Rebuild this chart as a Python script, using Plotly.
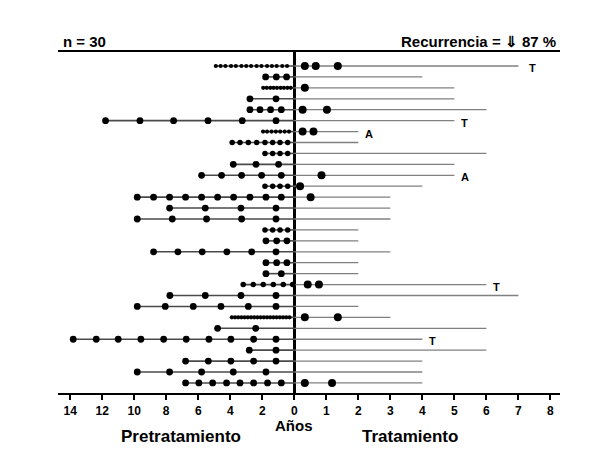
import plotly.graph_objects as go

# ---------------- data ----------------
rows = list(range(1, 31))

# pre-treatment episodes (years before treatment start), per row
pre_events = [
    [4.9, 4.6, 4.3, 3.95, 3.65, 3.3, 3.0, 2.7, 2.35, 2.05, 1.7, 1.4, 1.1, 0.75, 0.45],
    [1.79, 1.12, 0.48],
    [1.94, 1.72, 1.5, 1.29, 1.08, 0.86, 0.65, 0.43, 0.22],
    [2.77, 1.14],
    [2.77, 2.14, 1.48, 0.81],
    [11.79, 9.64, 7.54, 5.39, 3.25, 1.14],
    [1.95, 1.7, 1.42, 1.15, 0.88, 0.6, 0.33],
    [3.88, 3.39, 2.87, 2.35, 1.83, 1.35, 0.89, 0.41],
    [1.83, 1.35, 0.89, 0.41],
    [3.81, 2.39, 0.98],
    [5.79, 4.54, 3.29, 2.04, 0.81],
    [1.83, 1.35, 0.89, 0.41],
    [9.81, 8.79, 7.79, 6.79, 5.79, 4.79, 3.79, 2.77, 1.77, 0.81],
    [7.79, 5.56, 3.33, 1.14],
    [9.81, 7.62, 5.48, 3.29, 1.14],
    [1.83, 1.35, 0.89, 0.41],
    [1.77, 1.1, 0.46],
    [8.79, 7.27, 5.75, 4.21, 2.66, 1.14],
    [1.77, 1.1, 0.46],
    [1.77, 0.81],
    [3.19, 2.56, 1.94, 1.31, 0.69, 0.1],
    [7.77, 5.56, 3.33, 1.14],
    [9.81, 8.06, 6.31, 4.58, 2.87, 1.14],
    [3.9, 3.7, 3.5, 3.3, 3.1, 2.9, 2.7, 2.5, 2.3, 2.1, 1.9, 1.7, 1.5, 1.3, 1.1, 0.9, 0.7, 0.5, 0.3],
    [4.79, 2.41],
    [13.81, 12.37, 11.0, 9.58, 8.16, 6.75, 5.33, 3.96, 2.54, 1.14],
    [2.81, 1.14],
    [6.79, 5.37, 3.96, 2.54, 1.14],
    [9.81, 7.79, 5.79, 3.81, 1.77],
    [6.79, 5.96, 5.1, 4.23, 3.39, 2.54, 1.67, 0.81],
]

# episodes during treatment (years after start), by row
post_events = {
    1: [0.33, 0.67, 1.36],
    3: [0.33],
    5: [0.26, 1.02],
    7: [0.26, 0.6],
    11: [0.85],
    12: [0.18],
    13: [0.51],
    21: [0.42, 0.77],
    24: [0.33, 1.36],
    30: [0.33, 1.18],
}

# follow-up on treatment (years)
followup = [7, 4, 5, 5, 6, 5, 2, 2, 6, 5, 5, 4, 3, 3, 3, 2, 2, 3, 2, 2, 6, 7, 2, 3, 6, 4, 6, 4, 4, 4]

# end-of-line labels
end_labels = {1: "T", 6: "T", 7: "A", 11: "A", 21: "T", 26: "T"}

pre_ticks = [14, 12, 10, 8, 6, 4, 2]
post_ticks = [0, 1, 2, 3, 4, 5, 6, 7, 8]

# rows with very frequent episodes (drawn as small marks) / smaller dots
dense_rows = [1, 3, 7, 24]
small_rows = [8, 9, 12, 16, 21]


# ---------------- scale: pre side compressed x0.5 ----------------
def pre_u(v):
    return -v / 2.0


FONT = "Liberation Sans, Arial, sans-serif"

fig = go.Figure()

# left lines
lx, ly = [], []
for r, ev in zip(rows, pre_events):
    lx += [pre_u(max(ev)), 0, None]
    ly += [r, r, None]
fig.add_trace(go.Scatter(x=lx, y=ly, mode="lines",
                         line=dict(color="#4a4a4a", width=1.6), hoverinfo="skip"))

# right lines
rx, ry = [], []
for r, f in zip(rows, followup):
    rx += [0, f, None]
    ry += [r, r, None]
fig.add_trace(go.Scatter(x=rx, y=ry, mode="lines",
                         line=dict(color="#808080", width=1.3), hoverinfo="skip"))

# left dots
groups = {"normal": ([], [], 6.8), "small": ([], [], 5.5), "dense": ([], [], 4.2)}
for r, ev in zip(rows, pre_events):
    key = "dense" if r in dense_rows else ("small" if r in small_rows else "normal")
    for v in ev:
        groups[key][0].append(pre_u(v))
        groups[key][1].append(r)
for key, (gx, gy, sz) in groups.items():
    fig.add_trace(go.Scatter(x=gx, y=gy, mode="markers",
                             marker=dict(color="black", size=sz, line=dict(width=0)),
                             hoverinfo="skip"))

# right dots
px_, py_ = [], []
for r, ev in post_events.items():
    for v in ev:
        px_.append(v)
        py_.append(r)
fig.add_trace(go.Scatter(x=px_, y=py_, mode="markers",
                         marker=dict(color="black", size=8, line=dict(width=0)),
                         hoverinfo="skip"))

annotations = []
for r, lab in end_labels.items():
    annotations.append(dict(x=followup[r - 1], y=r, xref="x", yref="y", text="<b>%s</b>" % lab,
                            showarrow=False, xanchor="left", xshift=5 if r != 1 else 9, yshift=-2,
                            font=dict(family=FONT, size=11, color="black")))

annotations += [
    dict(x=0.006, y=1, xref="paper", yref="paper", text="<b>n = 30</b>", showarrow=False,
         xanchor="left", yanchor="bottom", yshift=0, font=dict(family=FONT, size=15, color="black")),
    dict(x=0.996, y=1, xref="paper", yref="paper", text="<b>Recurrencia = ⇓ 87 %</b>", showarrow=False,
         xanchor="right", yanchor="bottom", yshift=0, font=dict(family=FONT, size=15, color="black")),
    dict(x=0, y=0, xref="x", yref="paper", text="<b>Años</b>", showarrow=False,
         xanchor="center", yanchor="middle", yshift=-32, font=dict(family=FONT, size=15, color="black")),
    dict(x=pre_u(7.1), y=0, xref="x", yref="paper", text="<b>Pretratamiento</b>", showarrow=False,
         xanchor="center", yanchor="middle", yshift=-43, font=dict(family=FONT, size=17, color="black")),
    dict(x=3.6, y=0, xref="x", yref="paper", text="<b>Tratamiento</b>", showarrow=False,
         xanchor="center", yanchor="middle", yshift=-43, font=dict(family=FONT, size=17, color="black")),
]

tickvals = [pre_u(v) for v in pre_ticks] + post_ticks
ticktext = ["<b>%d</b>" % v for v in pre_ticks] + ["<b>%d</b>" % v for v in post_ticks]

# page body adds an 8px margin, so the figure is sized/offset to compensate
fig.update_layout(
    width=597, height=452,
    margin=dict(l=50, r=45, t=44, b=67, autoexpand=False),
    plot_bgcolor="white", paper_bgcolor="white",
    showlegend=False,
    annotations=annotations,
    xaxis=dict(range=[-7.38, 8.30], showline=True, linecolor="black", linewidth=2.2, mirror=True,
               ticks="outside", ticklen=5, tickwidth=1.5, tickcolor="black",
               tickvals=tickvals, ticktext=ticktext,
               tickfont=dict(family=FONT, size=12, color="black"),
               showgrid=False, zeroline=True, zerolinecolor="black", zerolinewidth=2.5),
    yaxis=dict(range=[30.92, -0.28], visible=False, showgrid=False, zeroline=False),
)

fig.write_html("out.html")
